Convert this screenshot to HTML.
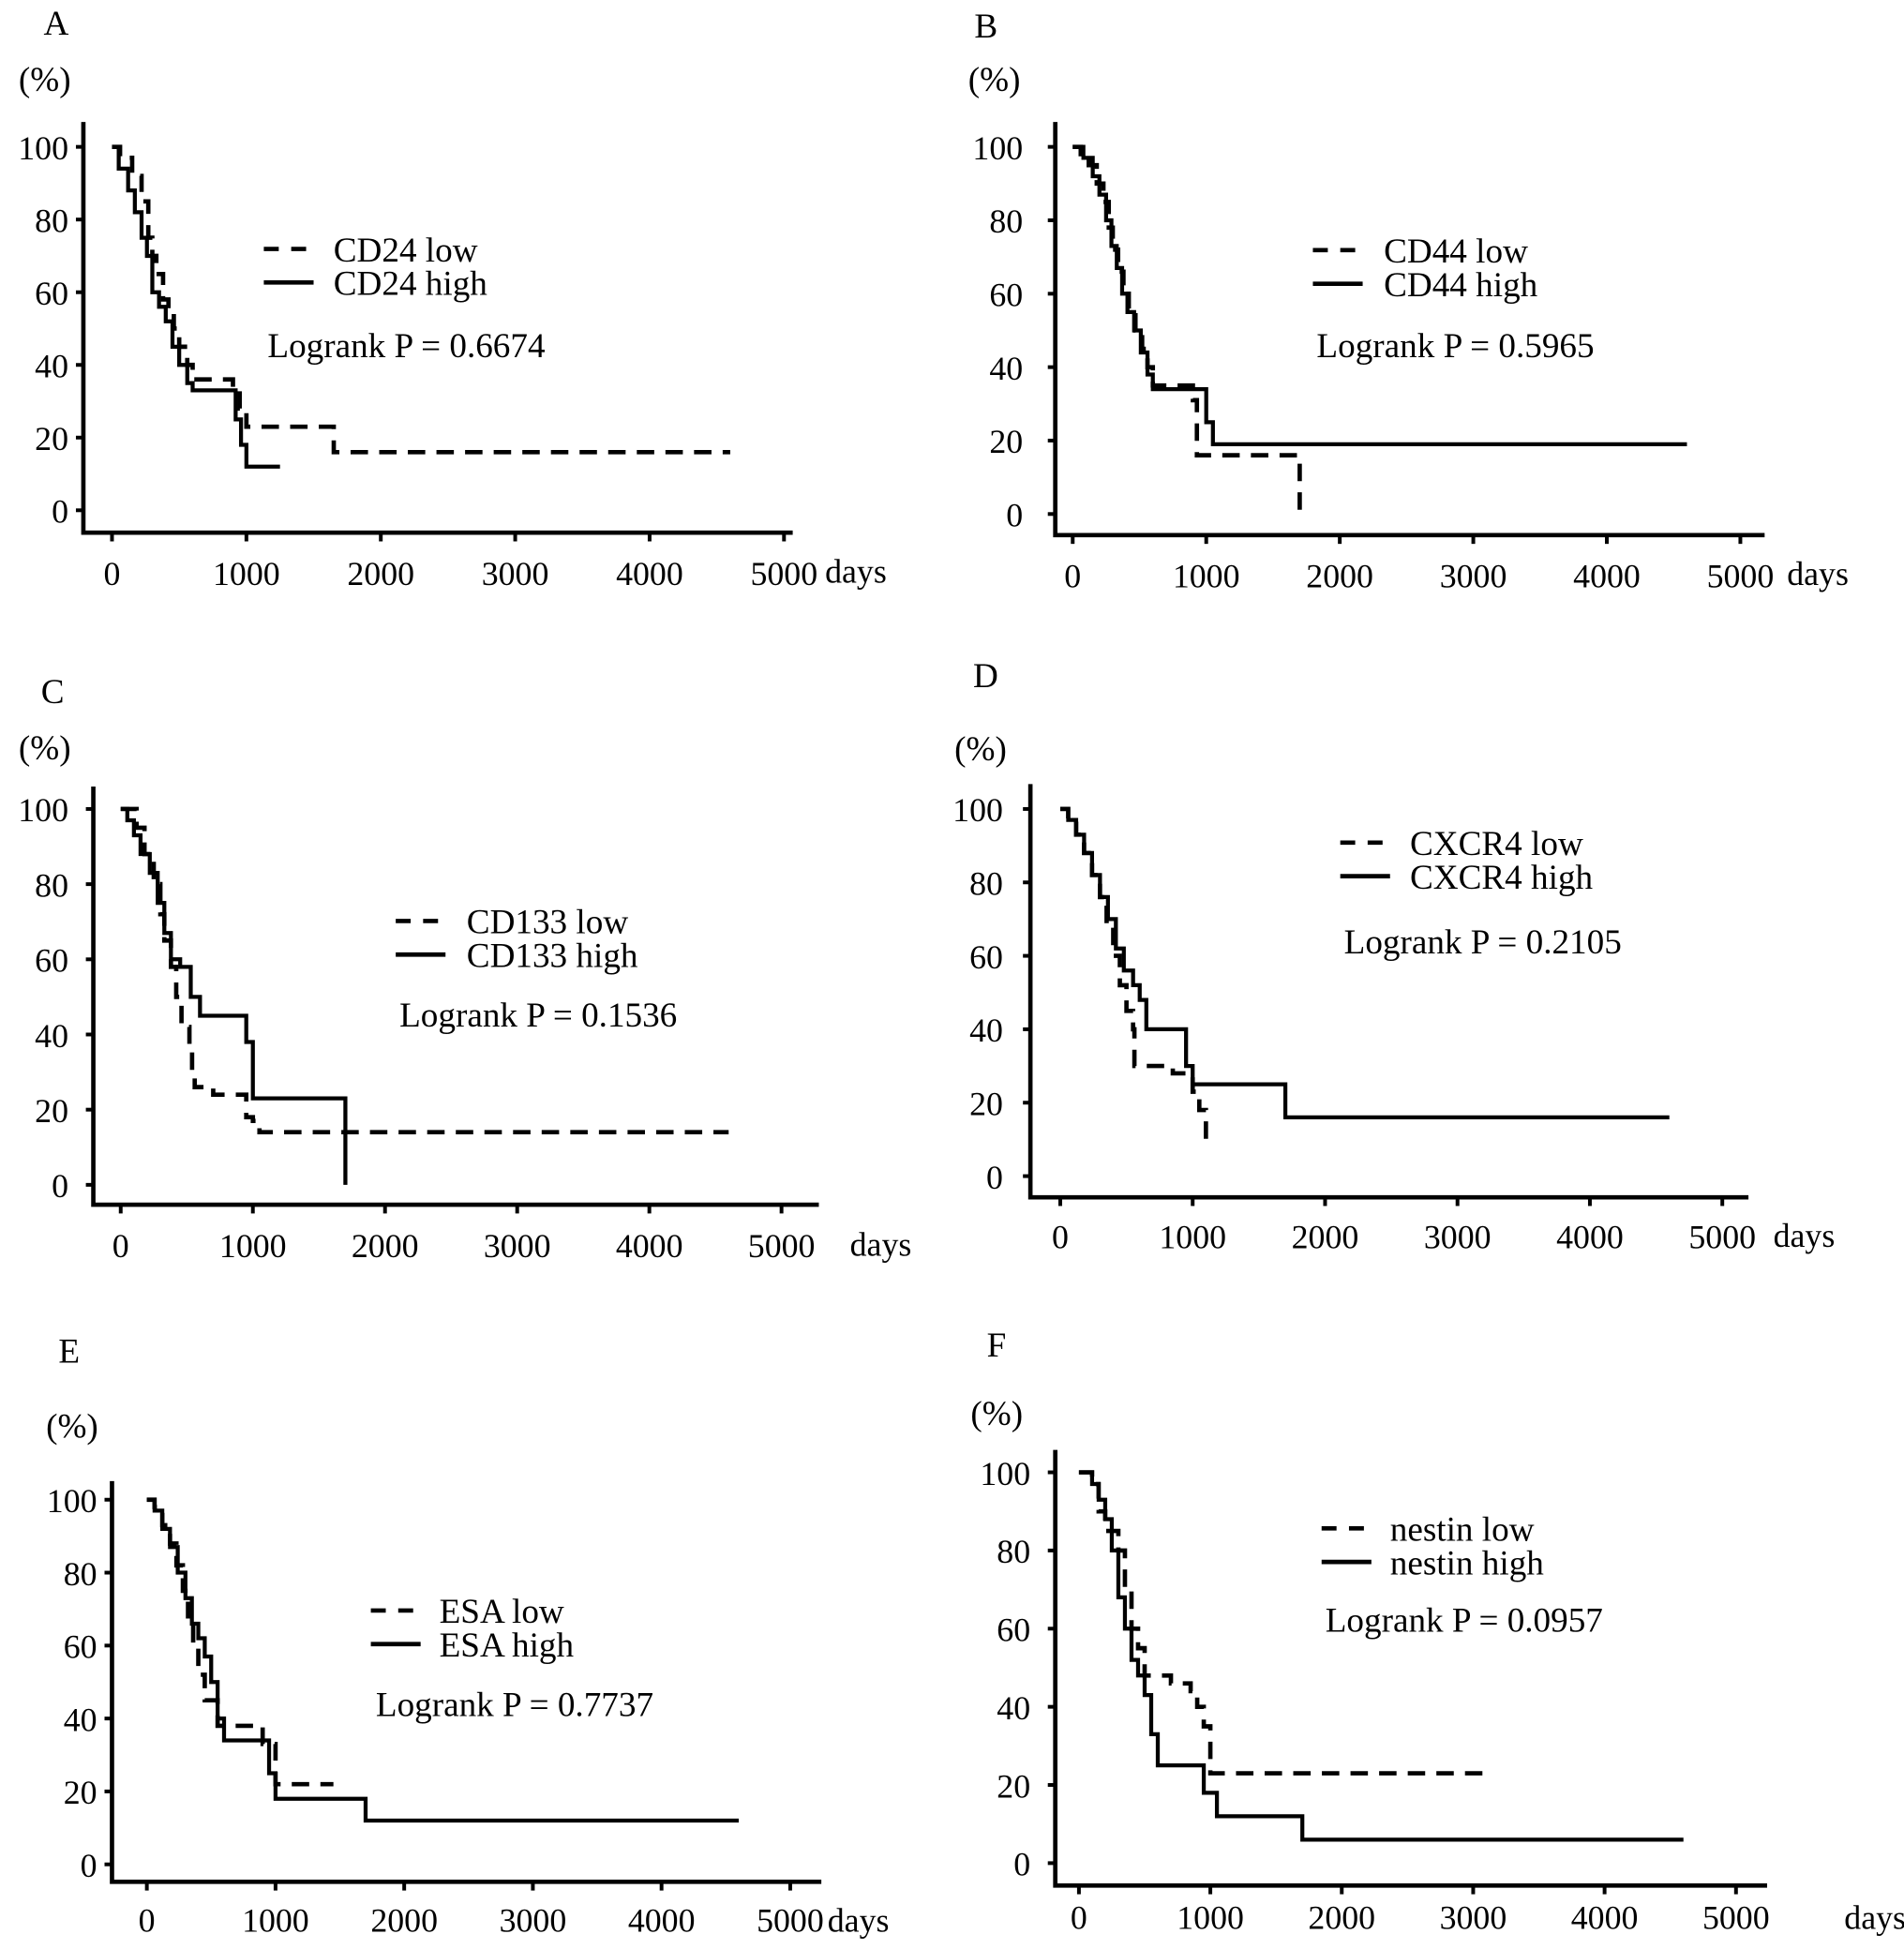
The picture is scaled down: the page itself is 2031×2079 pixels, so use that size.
<!DOCTYPE html>
<html><head><meta charset="utf-8"><style>html,body{margin:0;padding:0;background:#fff}svg{display:block}text{font-family:"Liberation Serif",serif;fill:#000}</style></head>
<body>
<svg id="fig" width="2031" height="2079" viewBox="0 0 1530 1566" preserveAspectRatio="none" xmlns="http://www.w3.org/2000/svg"></svg>
<script>
// ---- data (days, % survival) ----
const xTicks = [0,1000,2000,3000,4000,5000];
const yTicks = [0,20,40,60,80,100];
const markerNames = ["CD24","CD44","CD133","CXCR4","ESA","nestin"];
const panelLetters = ["A","B","C","D","E","F"];
const pValues = ["0.6674","0.5965","0.1536","0.2105","0.7737","0.0957"];
const lowA = [[0,100],[60,97],[150,92],[220,85],[270,75],[300,70],[330,65],[380,58],[420,55],[460,50],[500,45],[560,40],[600,36],[700,36],[900,33],[950,28],[1000,23],[1650,23],[1650,16],[4600,16]];
const highA = [[0,100],[50,94],[120,88],[170,82],[220,75],[260,70],[300,60],[350,56],[400,52],[450,45],[500,40],[560,35],[600,33],[880,33],[920,25],[960,18],[1000,12],[1250,12]];
const lowB = [[0,100],[60,98],[120,95],[180,90],[230,85],[270,78],[300,72],[340,66],[380,60],[420,55],[470,50],[520,45],[560,40],[600,35],[900,31],[930,16],[1700,16],[1700,0]];
const highB = [[0,100],[80,97],[150,92],[200,87],[250,80],[290,73],[330,67],[370,60],[410,55],[460,50],[510,44],[560,38],[600,34],[1000,34],[1000,25],[1050,19],[4600,19]];
const lowC = [[0,100],[120,95],[180,88],[250,80],[300,72],[330,65],[380,58],[420,50],[460,42],[520,36],[540,30],[560,26],[700,24],[900,24],[950,18],[1000,17],[1050,14],[4600,14]];
const highC = [[0,100],[50,97],[100,93],[150,88],[220,83],[280,75],[330,67],[380,60],[450,58],[530,50],[600,45],[900,45],[950,38],[1000,23],[1700,23],[1700,0]];
const lowD = [[0,100],[60,97],[120,93],[180,88],[240,82],[300,76],[350,68],[400,60],[450,52],[500,45],[550,40],[560,30],[700,30],[850,28],[1000,23],[1050,18],[1100,9],[1150,9]];
const highD = [[0,100],[60,97],[120,93],[180,88],[240,82],[300,76],[360,70],[420,62],[480,56],[550,52],[600,48],[650,40],[900,40],[950,30],[1000,25],[1700,25],[1700,16],[4600,16]];
const lowE = [[0,100],[60,98],[120,93],[180,88],[230,82],[280,75],[320,68],[360,60],[400,52],[450,45],[550,38],[700,38],[900,33],[1000,22],[1450,22]];
const highE = [[0,100],[60,97],[120,92],[180,87],[240,80],[300,73],[350,66],[400,62],[450,57],[500,50],[550,40],[600,34],[900,34],[950,25],[1000,18],[1700,18],[1700,12],[4600,12]];
const lowF = [[0,100],[100,97],[150,90],[200,85],[300,80],[350,70],[400,60],[450,55],[500,48],[700,46],[850,44],[900,40],[950,35],[1000,23],[3150,23]];
const highF = [[0,100],[100,97],[150,93],[200,88],[250,80],[300,68],[350,60],[400,52],[450,48],[500,43],[550,33],[600,25],[800,25],[950,18],[1050,12],[1700,12],[1700,6],[4600,6]];
const lowSeries = [lowA,lowB,lowC,lowD,lowE,lowF];
const highSeries = [highA,highB,highC,highD,highE,highF];

// ---- layout (shown coords) ----
const layouts = [
 {ax:67,bottom:428,top:98,right:637,x0:90,xk:108,y100:118,y0:410,ylab:55,letter:[35,28],pct:[15,73],days:[663,468],leg:[212,200,268],lr:[215,287],xlab:470},
 {ax:848,bottom:430,top:98,right:1418,x0:862,xk:107.3,y100:118,y0:413,ylab:822,letter:[783,30],pct:[778,73],days:[1436,470],leg:[1055,201,1112],lr:[1058,287],xlab:472},
 {ax:75,bottom:968,top:632,right:658,x0:97,xk:106.2,y100:650,y0:952,ylab:55,letter:[33,565],pct:[15,610],days:[683,1009],leg:[318,740,375],lr:[321,825],xlab:1010},
 {ax:828,bottom:962,top:630,right:1405,x0:852,xk:106.4,y100:650,y0:945,ylab:806,letter:[782,552],pct:[767,611],days:[1425,1002],leg:[1077,677,1133],lr:[1080,766],xlab:1003},
 {ax:90,bottom:1512,top:1190,right:660,x0:118,xk:103.4,y100:1205,y0:1498,ylab:78,letter:[47,1095],pct:[37,1155],days:[665,1552],leg:[298,1294,353],lr:[302,1379],xlab:1552},
 {ax:848,bottom:1515,top:1165,right:1420,x0:867,xk:105.6,y100:1183,y0:1497,ylab:828,letter:[793,1090],pct:[780,1145],days:[1482,1550],leg:[1062,1228,1117],lr:[1065,1311],xlab:1550}
];
const svg = document.getElementById('fig');
const NS = 'http://www.w3.org/2000/svg';
function mk(tag, attrs, parent){const e=document.createElementNS(NS,tag);for(const k in attrs)e.setAttribute(k,attrs[k]);(parent||svg).appendChild(e);return e;}
function txt(x,y,s,size,anchor,parent){const t=mk('text',{x:x,y:y,'font-size':size,'text-anchor':anchor||'start'},parent);t.textContent=s;return t;}

layouts.forEach((L,i)=>{
  const g = mk('g',{});
  
  
  const X = d => L.x0 + d/1000*L.xk;
  const Y = v => L.y0 - v/100*(L.y0-L.y100);
  const lt = txt(L.letter[0],L.letter[1],panelLetters[i],28,'start',g);
  
  
  const pt = txt(L.pct[0],L.pct[1],'(%)',28,'start',g);
  
  
  const axes = mk('path',{d:`M${L.ax},${L.top}V${L.bottom}H${L.right}`,fill:'none',stroke:'#000','stroke-width':3.5},g);
  
  
  xTicks.forEach(t=>{
    mk('line',{x1:X(t),x2:X(t),y1:L.bottom,y2:L.bottom+7,stroke:'#000','stroke-width':3},g);
    const tl = txt(X(t),L.xlab,String(t),27,'middle',g);
    
    
  });
  yTicks.forEach(t=>{
    mk('line',{x1:L.ax-6,x2:L.ax,y1:Y(t),y2:Y(t),stroke:'#000','stroke-width':3},g);
    const tl = txt(L.ylab,Y(t)+10,String(t),27,'end',g);
    
    
  });
  const dt = txt(L.days[0],L.days[1],'days',27,'start',g);
  
  
  function stepPath(pts){let d=`M${X(pts[0][0])},${Y(pts[0][1])}`;for(let k=1;k<pts.length;k++){d+=`H${X(pts[k][0])}V${Y(pts[k][1])}`;}return d;}
  const lo = mk('path',{d:stepPath(lowSeries[i]),fill:'none',stroke:'#000','stroke-width':3.5,'stroke-dasharray':'14,9'},g);
  
  
  const hi = mk('path',{d:stepPath(highSeries[i]),fill:'none',stroke:'#000','stroke-width':3.2},g);
  
  
  const [lx,ly,tx] = L.leg;
  const lg = mk('g',{},g);
  
  
  mk('line',{x1:lx,x2:lx+40,y1:ly,y2:ly,stroke:'#000','stroke-width':3.5,'stroke-dasharray':'12,10'},lg);
  txt(tx,ly+10,markerNames[i]+' low',28,'start',lg);
  mk('line',{x1:lx,x2:lx+40,y1:ly+27,y2:ly+27,stroke:'#000','stroke-width':3.5},lg);
  txt(tx,ly+37,markerNames[i]+' high',28,'start',lg);
  const pv = txt(L.lr[0],L.lr[1],'Logrank P = '+pValues[i],28,'start',g);
  
  
});
</script>
</body></html>
